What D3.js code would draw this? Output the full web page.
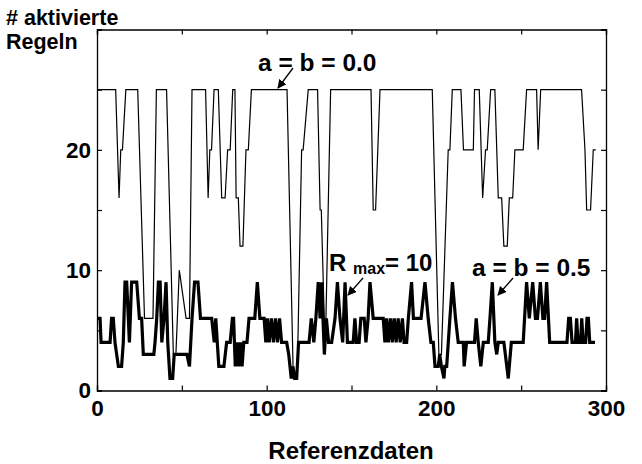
<!DOCTYPE html>
<html>
<head>
<meta charset="utf-8">
<script src="https://cdnjs.cloudflare.com/ajax/libs/d3/7.8.5/d3.min.js"></script>
<style>
    body { margin: 0; background: #fff; }
    text { font-family: "Liberation Sans", Arial, sans-serif; font-weight: bold; }
</style>
</head>
<body>
<div id="chart"></div>
<script>
// a = b = 0.0 (thin line), [Referenzdaten, # aktivierte Regeln]
const series_a0 = [
    [0, 25], [11, 25], [13, 16], [14, 20], [15, 20], [17, 25], [24, 25], [28, 6], [33, 6], [35, 25],
    [41, 25], [45, 3], [46.5, 3], [48.5, 10], [52.5, 6], [54.5, 6], [56, 25], [64, 25], [65.5, 16],
    [66.5, 20], [67.5, 20], [69, 25], [71.5, 25], [73.5, 16], [75.5, 16], [77, 20], [78.5, 20],
    [80, 25], [81.3, 25], [82, 16], [83.3, 16], [84.3, 12], [86, 12], [87.8, 20], [89.2, 20],
    [91, 25], [112, 25], [115.7, 1], [118, 1], [120.6, 20], [121.5, 20], [124.5, 25], [130, 25],
    [131.5, 15], [132.2, 15], [134.5, 3], [137.7, 25], [161.5, 25], [162.8, 15], [164.2, 15],
    [166.8, 25], [197.6, 25], [201.5, 3], [203, 3], [207, 20], [208, 20], [209.4, 25], [214.5, 25],
    [216, 20], [221.8, 20], [222.5, 25], [225.3, 25], [227.3, 16], [229, 20], [230, 20], [232, 25],
    [234.5, 25], [236.5, 16], [238.5, 16], [239.8, 12], [241.8, 12], [243, 16], [245, 16],
    [246.3, 20], [251.2, 20], [253.2, 25], [259.1, 25], [260, 20], [261.5, 25], [285.6, 25],
    [287.6, 20], [288.6, 15], [290.9, 15], [292.5, 20], [294, 20]
];

// a = b = 0.5 (thick line)
const series_a05 = [
    [0, 6], [1.8, 6], [2.4, 4], [7.7, 4], [8.6, 6], [9.6, 6], [10.6, 4], [12.6, 2], [14.5, 2],
    [15.5, 4], [16.5, 9], [17.5, 9], [19.1, 4], [20.4, 9], [23.4, 9], [25, 6], [26.3, 6], [27.3, 3],
    [33.5, 3], [34.2, 4], [35.2, 6], [36.2, 9], [37.2, 9], [38.2, 4], [39.5, 6], [40.7, 9], [41.7, 4],
    [43, 1], [44.6, 1], [45.5, 3], [53, 3], [54.5, 2], [56, 6], [57.5, 9], [59.5, 9], [61, 6],
    [67.6, 6], [69.1, 4], [70, 6], [71.8, 2], [74.8, 2], [76.4, 4], [78.5, 4], [79.8, 6], [80.5, 6],
    [81.5, 2], [82.5, 4], [83.5, 2], [84.5, 4], [85.5, 2], [86.5, 4], [88.4, 4], [89.6, 6], [93, 6],
    [94.5, 9], [96, 6], [98.5, 6], [99.5, 4], [100.5, 6], [101.5, 4], [102.8, 6], [104, 4],
    [105.2, 6], [106.4, 4], [107.6, 6], [108.8, 4], [111.8, 4], [113, 3], [114.5, 1], [115.5, 2],
    [116.5, 1], [117.7, 1], [118.8, 4], [125, 4], [126.3, 6], [127.8, 4], [129, 6], [130.4, 9],
    [131.5, 6], [132.4, 9], [134, 3], [135.2, 6], [136.5, 4], [138.3, 4], [140.3, 6], [141.7, 9],
    [143.2, 6], [144.8, 4], [146.2, 9], [147.6, 4], [151, 4], [152, 6], [153, 4], [154.5, 4],
    [155.5, 6], [157.5, 6], [158.5, 4], [159.8, 6], [160.9, 9], [162.8, 6], [168.7, 6], [169.7, 4],
    [170.7, 6], [171.7, 4], [173, 6], [174, 4], [175.2, 6], [176.3, 4], [177.5, 6], [178.7, 4],
    [180, 6], [181, 4], [182.5, 4], [183.5, 6], [185.4, 9], [186.5, 6], [191, 6], [193.3, 9],
    [195.2, 6], [196.8, 4], [198.2, 4], [199.2, 2], [201.1, 2], [202, 3], [203, 2], [204.5, 1],
    [205, 2], [206.1, 2], [208, 6], [209.5, 9], [211.3, 6], [212.9, 4], [215.9, 4], [216.4, 2],
    [217.8, 4], [222.5, 4], [223.5, 6], [224.7, 4], [226.2, 2], [227.7, 4], [230.6, 4], [231.6, 6],
    [233, 9], [234.5, 4], [235.6, 3], [236.5, 4], [239.8, 4], [242.4, 1], [244.2, 4], [251.2, 4],
    [253.2, 9], [254.8, 6], [256.8, 9], [258.4, 6], [259.6, 6], [261.3, 9], [262.8, 6], [263.8, 6],
    [265, 9], [266.8, 4], [277, 4], [278, 6], [279, 6], [280, 4], [282, 4], [282.7, 6], [283.5, 4],
    [285, 4], [285.7, 6], [286.5, 4], [288, 4], [288.8, 6], [289.6, 6], [290.4, 4], [293.5, 4]
];

const x_ticks = [0, 50, 100, 150, 200, 250, 300];
const x_tick_labels = [0, 100, 200, 300];
const y_ticks = [0, 5, 10, 15, 20, 25, 30];
const y_tick_labels = [0, 10, 20];

const width = 642;
const height = 464;
const margin = { top: 29.5, right: 36, bottom: 73.5, left: 97 };

const svg = d3.select('#chart')
    .append('svg')
    .attr('width', width)
    .attr('height', height);

const x = d3.scaleLinear().domain([0, 300]).range([margin.left, width - margin.right]);
const y = d3.scaleLinear().domain([0, 30]).range([height - margin.bottom, margin.top]);

const fmt = d => x_tick_labels.includes(d) ? d : '';
const fmt_y = d => y_tick_labels.includes(d) ? d : '';

// axes with inward ticks
svg.append('g')
    .attr('transform', `translate(0, ${y(0)})`)
    .call(d3.axisBottom(x).tickValues(x_ticks).tickSize(-5).tickPadding(10).tickFormat(fmt))
    .call(g => g.selectAll('text').attr('font-size', 22.5).attr('fill', '#000'));
svg.append('g')
    .attr('transform', `translate(0, ${y(30)})`)
    .call(d3.axisTop(x).tickValues(x_ticks).tickSize(-5).tickFormat(''));
svg.append('g')
    .attr('transform', `translate(${x(0)}, 0)`)
    .call(d3.axisLeft(y).tickValues(y_ticks).tickSize(-5).tickPadding(6).tickFormat(fmt_y))
    .call(g => g.selectAll('text').attr('font-size', 22.5).attr('fill', '#000'));
svg.append('g')
    .attr('transform', `translate(${x(300)}, 0)`)
    .call(d3.axisRight(y).tickValues(y_ticks).tickSize(-5).tickFormat(''));

svg.selectAll('.domain').attr('stroke', '#000').attr('stroke-width', 1.3);
svg.selectAll('.tick line').attr('stroke', '#000').attr('stroke-width', 1.2);

const line = d3.line()
    .x(d => x(d[0]))
    .y(d => y(d[1]));

svg.append('path')
    .datum(series_a0)
    .attr('fill', 'none')
    .attr('stroke', '#000')
    .attr('stroke-width', 1.2)
    .attr('d', line);

svg.append('path')
    .datum(series_a05)
    .attr('fill', 'none')
    .attr('stroke', '#000')
    .attr('stroke-width', 3.2)
    .attr('d', line);

// titles
svg.append('text').attr('x', 6).attr('y', 25).attr('font-size', 21.5).text('# aktivierte');
svg.append('text').attr('x', 6).attr('y', 49).attr('font-size', 21.5).text('Regeln');
svg.append('text')
    .attr('x', 351)
    .attr('y', 459)
    .attr('text-anchor', 'middle')
    .attr('font-size', 24)
    .text('Referenzdaten');

// annotations
svg.append('defs').append('marker')
    .attr('id', 'head')
    .attr('viewBox', '0 0 10 10')
    .attr('refX', 9).attr('refY', 5)
    .attr('markerWidth', 9).attr('markerHeight', 9)
    .attr('markerUnits', 'userSpaceOnUse')
    .attr('orient', 'auto')
    .append('path')
    .attr('d', 'M0,0 L10,5 L0,10 z')
    .attr('fill', '#000');

function arrow(x1, y1, x2, y2) {
    svg.append('line')
        .attr('x1', x1).attr('y1', y1)
        .attr('x2', x2).attr('y2', y2)
        .attr('stroke', '#000')
        .attr('stroke-width', 1.3)
        .attr('marker-end', 'url(#head)');
}

svg.append('text').attr('x', 258).attr('y', 71).attr('font-size', 24.5).text('a = b = 0.0');
arrow(293, 68, 278, 88);

const rmax = svg.append('text').attr('x', 329).attr('y', 271).attr('font-size', 24);
rmax.append('tspan').text('R ');
rmax.append('tspan').attr('font-size', 16).attr('dy', 3).text('max');
rmax.append('tspan').attr('dy', -3).text('= 10');
arrow(363, 278, 348, 295);

svg.append('text').attr('x', 472).attr('y', 276).attr('font-size', 24.5).text('a = b = 0.5');
arrow(513, 278, 498, 295);
</script>
</body>
</html>
